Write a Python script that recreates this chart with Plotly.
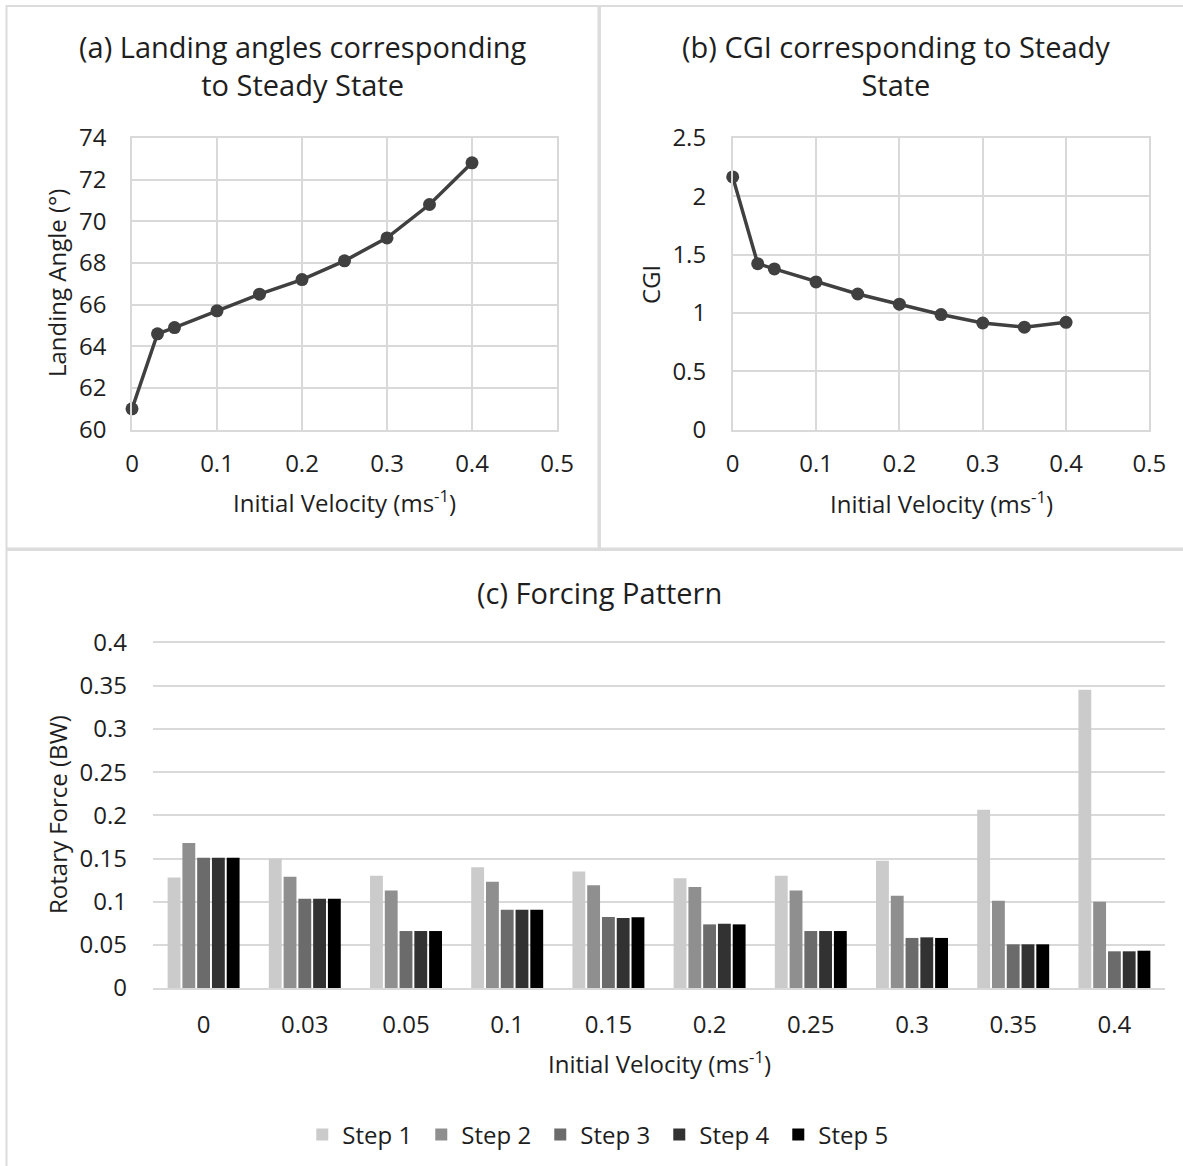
import plotly.graph_objects as go

# Initial velocities (ms^-1) used for the steady-state runs
velocity = [0, 0.03, 0.05, 0.1, 0.15, 0.2, 0.25, 0.3, 0.35, 0.4]

# (a) landing angle at steady state (degrees)
landing_angle = [61.0, 64.6, 64.9, 65.7, 66.5, 67.2, 68.1, 69.2, 70.8, 72.8]

# (b) CGI at steady state
cgi = [2.165, 1.422, 1.377, 1.266, 1.162, 1.075, 0.986, 0.914, 0.878, 0.920]

# (c) rotary force per step (BW)
velocity_labels = ["0", "0.03", "0.05", "0.1", "0.15", "0.2", "0.25", "0.3", "0.35", "0.4"]
step_names = ["Step 1", "Step 2", "Step 3", "Step 4", "Step 5"]
step1 = [0.128, 0.150, 0.130, 0.140, 0.135, 0.127, 0.130, 0.1475, 0.2066, 0.3456]
step2 = [0.168, 0.129, 0.113, 0.123, 0.119, 0.117, 0.113, 0.107, 0.101, 0.100]
step3 = [0.151, 0.1035, 0.066, 0.0907, 0.0822, 0.0737, 0.066, 0.058, 0.0506, 0.0425]
step4 = [0.151, 0.1035, 0.066, 0.0907, 0.081, 0.0745, 0.066, 0.0587, 0.0506, 0.0425]
step5 = [0.151, 0.1035, 0.066, 0.0907, 0.0819, 0.0737, 0.066, 0.058, 0.0506, 0.0432]
step_colors = ["#cbcbcb", "#8f8f8f", "#6b6b6b", "#323232", "#000000"]

# Tick labels
x_line_ticks = [0, 0.1, 0.2, 0.3, 0.4, 0.5]
x_line_text = ["0", "0.1", "0.2", "0.3", "0.4", "0.5"]
angle_ticks = [60, 62, 64, 66, 68, 70, 72, 74]
cgi_ticks = [0, 0.5, 1, 1.5, 2, 2.5]
cgi_text = ["0", "0.5", "1", "1.5", "2", "2.5"]
force_ticks = [0, 0.05, 0.1, 0.15, 0.2, 0.25, 0.3, 0.35, 0.4]
force_text = ["0", "0.05", "0.1", "0.15", "0.2", "0.25", "0.3", "0.35", "0.4"]

W, H = 1183, 1166
FONT = "Open Sans"
TXT = "#1e1e1e"
GRID = "#d9d9d9"
LINE = "#404040"


def px(x):
    return x / W


def py(y):
    return 1 - y / H


fig = go.Figure()

for xa, ya, vals in [("x", "y", landing_angle), ("x2", "y2", cgi)]:
    fig.add_trace(go.Scatter(
        x=velocity, y=vals, mode="lines+markers", cliponaxis=False,
        line=dict(color=LINE, width=3.5), marker=dict(color=LINE, size=13),
        xaxis=xa, yaxis=ya, showlegend=False, hoverinfo="skip"))

for name, vals, col in zip(step_names, [step1, step2, step3, step4, step5], step_colors):
    fig.add_trace(go.Bar(
        x=velocity_labels, y=vals, name=name, marker=dict(color=col, line=dict(width=0)),
        xaxis="x3", yaxis="y3", hoverinfo="skip"))

tick_font = dict(family=FONT, size=24, color=TXT)
common = dict(showgrid=True, gridcolor=GRID, gridwidth=1.5, showline=True, linecolor=GRID,
              linewidth=1.5, mirror=True, zeroline=False, ticks="", tickfont=tick_font, fixedrange=True)

y_lo = py(429.7)
y_hi = py(137.8)

fig.update_layout(
    width=W, height=H,
    margin=dict(l=0, r=0, t=0, b=0, autoexpand=False),
    paper_bgcolor="white", plot_bgcolor="white",
    font=dict(family=FONT, color=TXT),
    barmode="group", bargap=0.27, bargroupgap=0.13,
    xaxis=dict(domain=[px(132), px(557)], anchor="y", range=[0, 0.5],
               tickvals=x_line_ticks, ticktext=x_line_text, ticklabelstandoff=12, **common),
    yaxis=dict(domain=[y_lo, y_hi], anchor="x", range=[60, 74],
               tickvals=angle_ticks, ticklabelstandoff=19, **common),
    xaxis2=dict(domain=[px(732.7), px(1149.4)], anchor="y2", range=[0, 0.5],
                tickvals=x_line_ticks, ticktext=x_line_text, ticklabelstandoff=12, **common),
    yaxis2=dict(domain=[y_lo, y_hi], anchor="x2", range=[0, 2.5],
                tickvals=cgi_ticks, ticktext=cgi_text, ticklabelstandoff=20, **common),
    xaxis3=dict(domain=[px(153), px(1165)], anchor="y3", showgrid=False, showline=True,
                linecolor=GRID, linewidth=1.5, mirror=True,
                zeroline=False, ticks="", tickfont=tick_font, ticklabelstandoff=14, fixedrange=True),
    yaxis3=dict(domain=[py(988), py(642.7)], anchor="x3", range=[0, 0.4],
                tickvals=force_ticks, ticktext=force_text, showgrid=True, gridcolor=GRID,
                gridwidth=1.5, showline=False, zeroline=False, ticks="", tickfont=tick_font,
                ticklabelstandoff=25, fixedrange=True),
    legend=dict(orientation="h", x=0.507, xanchor="center", y=py(1135), yanchor="middle",
                font=dict(family=FONT, size=24, color=TXT), traceorder="normal",
                entrywidth=74, entrywidthmode="pixels", itemclick=False, itemdoubleclick=False),
)

# Panel frames
frames = [(6.5, 6, 598.5, 548.5), (600, 6, 1195, 548.5), (6.5, 550, 1195, 1180)]
for x0, y0, x1, y1 in frames:
    fig.add_shape(type="rect", xref="paper", yref="paper",
                  x0=px(x0), y0=py(y0), x1=px(x1), y1=py(y1),
                  line=dict(color="#dcdcdc", width=2), fillcolor="rgba(0,0,0,0)", layer="below")

title_font = dict(family=FONT, size=29, color=TXT)
axis_font = dict(family=FONT, size=24, color=TXT)
annotations = [
    dict(x=px(302), y=py(66), text="(a) Landing angles corresponding<br>to Steady State", font=title_font),
    dict(x=px(896), y=py(66), text="(b) CGI corresponding to Steady<br>State", font=title_font),
    dict(x=px(599), y=py(592), text="(c) Forcing Pattern", font=title_font),
    dict(x=px(344), y=py(501), text="Initial Velocity (ms<sup>-1</sup>)", font=axis_font),
    dict(x=px(941), y=py(502), text="Initial Velocity (ms<sup>-1</sup>)", font=axis_font),
    dict(x=px(659), y=py(1062), text="Initial Velocity (ms<sup>-1</sup>)", font=axis_font),
    dict(x=px(57), y=py(283), text="Landing Angle (°)", font=axis_font, textangle=-90),
    dict(x=px(650), y=py(285), text="CGI", font=axis_font, textangle=-90),
    dict(x=px(57), y=py(815), text="Rotary Force (BW)", font=axis_font, textangle=-90),
]
for a in annotations:
    fig.add_annotation(xref="paper", yref="paper", showarrow=False,
                       xanchor="center", yanchor="middle", **a)

fig.write_html("out.html")
